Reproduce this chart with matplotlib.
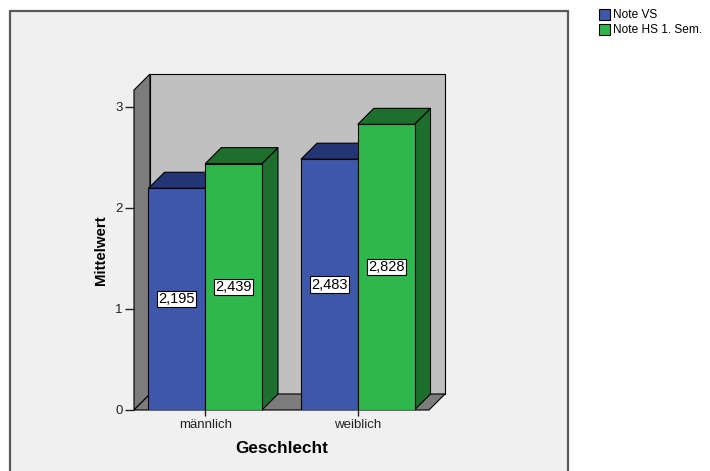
import matplotlib
matplotlib.use("Agg")
import numpy as np
import matplotlib.pyplot as plt
from matplotlib.patches import Polygon, Rectangle

plt.rcParams['font.family'] = ['Liberation Sans', 'DejaVu Sans']

# Data
categories = ["männlich", "weiblich"]
series_names = ["Note VS", "Note HS 1. Sem."]
note_vs = [2.195, 2.483]
note_hs = [2.439, 2.828]
y_ticks = [0, 1, 2, 3]

# Style
BLUE, BLUE_DARK = "#3d57ab", "#233574"
GREEN, GREEN_DARK = "#2eb84b", "#1e6e2d"
WALL_SIDE, WALL_BACK, FLOOR = "#7c7c7c", "#c0c0c0", "#7c7c7c"
PANEL = "#f0f0f0"
BAR_W = 0.372
DEPTH_PX = 16

fig = plt.figure(figsize=(7.1, 4.71), dpi=100)
fig.patch.set_facecolor("white")
W, H = 710, 471

# Outer chart panel
fig.patches.append(Rectangle((10 / W, -0.02), 558 / W, 1.02 - 11 / H,
                             transform=fig.transFigure, facecolor=PANEL,
                             edgecolor="#5a5a5a", linewidth=1.6, zorder=-5))

ax = fig.add_axes([134 / W, 61 / H, 295 / W, 320 / H])
ax.set_facecolor("none")
for s in ax.spines.values():
    s.set_visible(False)
ax.set_xlim(-0.467, 1.467)
ax.set_ylim(0, 3.168)

# depth of the 3D extrusion expressed in data units
inv = ax.transData.inverted()
x0, y0 = inv.transform((0, 0))
x1, y1 = inv.transform((DEPTH_PX, DEPTH_PX))
DX, DY = x1 - x0, y1 - y0

xl, xr = ax.get_xlim()
yb, yt = ax.get_ylim()

def poly(pts, fc, z):
    ax.add_patch(Polygon(pts, closed=True, facecolor=fc, edgecolor="black",
                         linewidth=0.8, zorder=z, clip_on=False))

# Walls and floor
poly([(xl, yb), (xl + DX, yb + DY), (xl + DX, yt + DY), (xl, yt)], WALL_SIDE, 1)
poly([(xl + DX, yb + DY), (xr + DX, yb + DY), (xr + DX, yt + DY), (xl + DX, yt + DY)], WALL_BACK, 1)
poly([(xl, yb), (xr, yb), (xr + DX, yb + DY), (xl + DX, yb + DY)], FLOOR, 1.5)

x = np.arange(len(categories))

def bar3d(lefts, values, front, dark, label, z):
    bars = ax.bar(lefts, values, width=BAR_W, align="edge", color=front,
                  edgecolor="black", linewidth=0.8, label=label, zorder=z + 1)
    for l, v in zip(lefts, values):
        r = l + BAR_W
        poly([(r, 0), (r + DX, DY), (r + DX, v + DY), (r, v)], dark, z)
        poly([(l, v), (r, v), (r + DX, v + DY), (l + DX, v + DY)], dark, z)
        ax.text(l + BAR_W / 2, v / 2, f"{v:.3f}".replace(".", ","),
                ha="center", va="center", fontsize=10.5, color="black", zorder=10,
                bbox=dict(boxstyle="square,pad=0.08", facecolor="white",
                          edgecolor="black", linewidth=0.8))
    return bars

b1 = bar3d(x - BAR_W, note_vs, BLUE, BLUE_DARK, series_names[0], 3)
b2 = bar3d(x, note_hs, GREEN, GREEN_DARK, series_names[1], 5)

# Axes decoration
ax.set_yticks(y_ticks)
ax.set_yticklabels([str(t) for t in y_ticks])
ax.tick_params(axis="y", length=6.5, width=1.0, color="#222222", labelsize=9.5,
               labelcolor="#222222", pad=1.5)
ax.set_xticks(x)
ax.set_xticklabels(categories)
ax.tick_params(axis="x", length=4.5, width=1.0, color="#222222", labelsize=9.5,
               labelcolor="#222222", pad=2)
ax.set_xlabel("Geschlecht", fontsize=12.3, fontweight="bold", labelpad=7)
ax.set_ylabel("Mittelwert", fontsize=10.8, fontweight="bold", labelpad=5)

fig.legend(handles=[b1, b2], labels=series_names, loc="upper left",
           bbox_to_anchor=(599 / W, 1 - 9 / H), frameon=False, fontsize=8.6,
           handlelength=0.95, handleheight=1.0, handletextpad=0.2,
           labelspacing=0.2, borderaxespad=0, borderpad=0)

fig.savefig("out.png", dpi=100, facecolor="white")
